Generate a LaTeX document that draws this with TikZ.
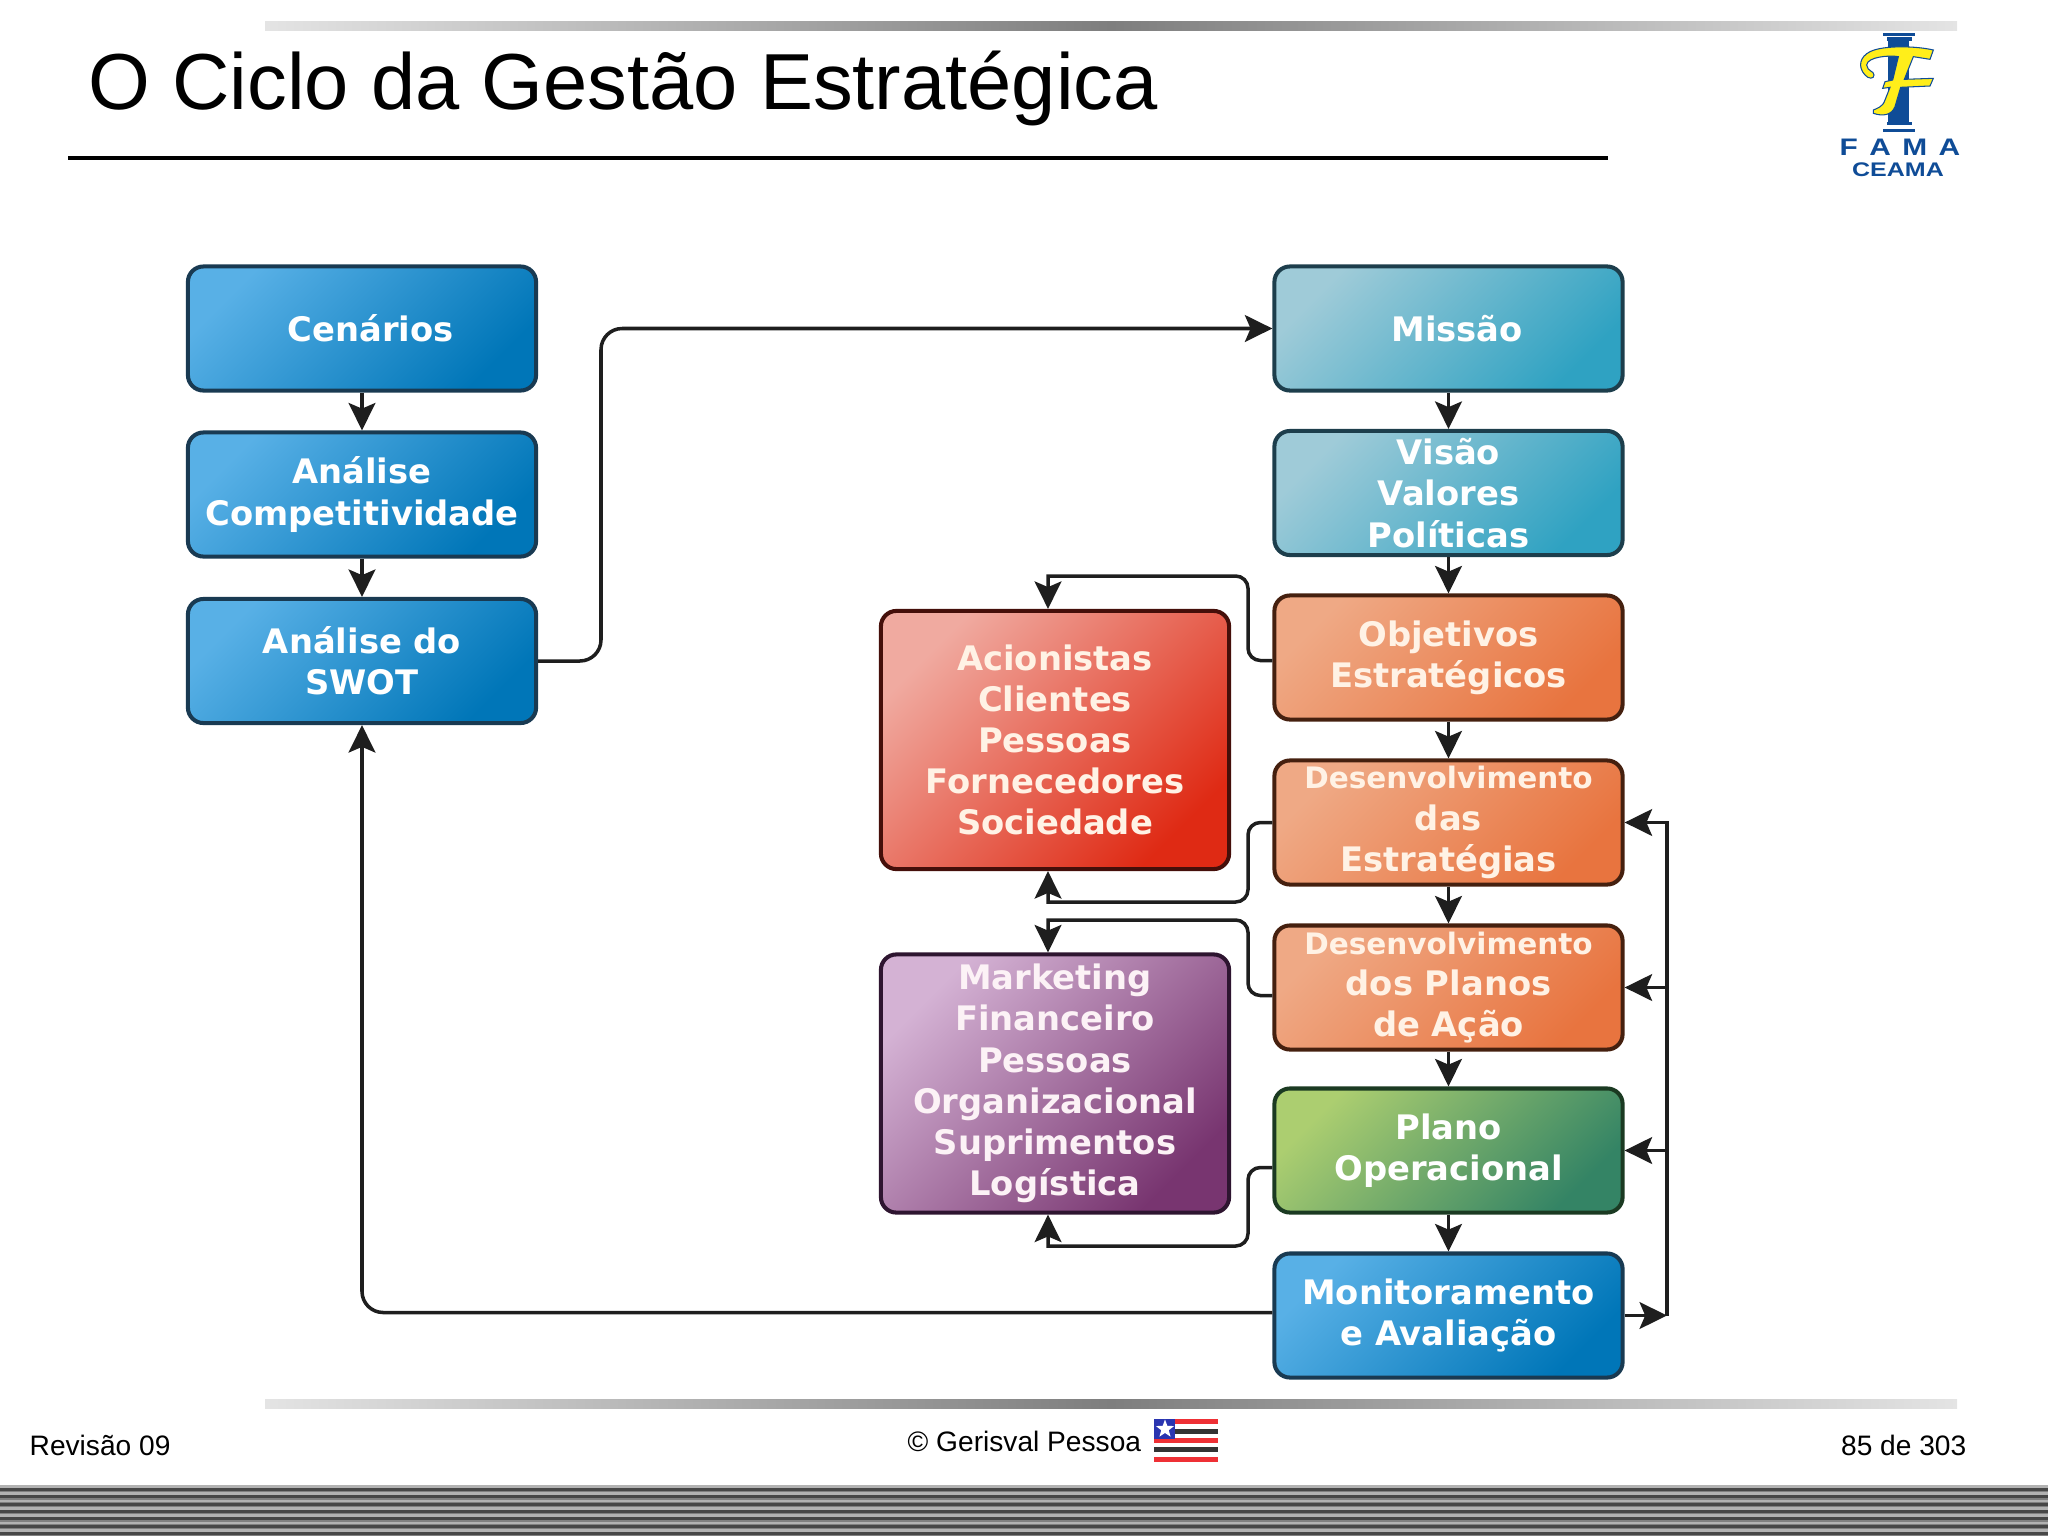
\documentclass[tikz,border=0pt]{standalone}
\usepackage{fontspec}
\setmainfont{Liberation Sans}
\newfontfamily\boxfont{DejaVu Sans}
\usepackage{tikz}
\usetikzlibrary{calc,arrows.meta,shapes.geometric}
\definecolor{linecol}{HTML}{1E1E1E}
\definecolor{barmid}{HTML}{7E7E7E}
\definecolor{barend}{HTML}{E4E4E4}
\definecolor{logoblue}{HTML}{0F4C97}
\definecolor{logoyellow}{HTML}{FFEE1A}
\definecolor{flagred}{HTML}{EE3035}
\definecolor{flagblue}{HTML}{2A35B0}
\definecolor{blueA}{HTML}{58B0E6}
\definecolor{blueB}{HTML}{0076B8}
\definecolor{blueE}{HTML}{193A52}
\definecolor{tealA}{HTML}{9FCBD8}
\definecolor{tealB}{HTML}{2FA2C2}
\definecolor{tealE}{HTML}{1D3E4C}
\definecolor{orangeA}{HTML}{EFA985}
\definecolor{orangeB}{HTML}{E8743F}
\definecolor{orangeE}{HTML}{45200F}
\definecolor{redA}{HTML}{F0AAA0}
\definecolor{redB}{HTML}{DF2A14}
\definecolor{redE}{HTML}{450F0A}
\definecolor{purpleA}{HTML}{D4B2D4}
\definecolor{purpleB}{HTML}{783570}
\definecolor{purpleE}{HTML}{2E1530}
\definecolor{greenA}{HTML}{ACCE70}
\definecolor{greenB}{HTML}{348465}
\definecolor{greenE}{HTML}{1B3A22}
\newcommand{\fitline}[2]{{\fontsize{#1}{11.7}\selectfont #2}}
\tikzset{
    gradbox/.style n args={3}{shape=rectangle,rounded corners=4.4pt,draw=#3,line width=1.15pt,top color=#1,bottom color=#2,shading angle=45,minimum width=3.48cm,minimum height=1.24cm,inner sep=0,align=center,text=white,font=\boxfont\bfseries\fontsize{9.6}{11.7}\selectfont},
    bluebox/.style={gradbox={blueA}{blueB}{blueE}},
    tealbox/.style={gradbox={tealA}{tealB}{tealE}},
    orangebox/.style={gradbox={orangeA}{orangeB}{orangeE},text=white!90!orange},
    redbox/.style={gradbox={redA}{redB}{redE},minimum height=2.58cm,text=white!90!orange},
    purplebox/.style={gradbox={purpleA}{purpleB}{purpleE},minimum height=2.58cm,text=white!95!purple},
    greenbox/.style={gradbox={greenA}{greenB}{greenE}},
    conn/.style={draw=linecol,line width=1pt,-{Stealth[length=7.8pt,width=7.6pt,inset=1.6pt]}},
    elbow/.style={conn,rounded corners=3.5pt},
    slidetext/.style={inner sep=0,anchor=base west,font=\fontsize{8}{10}\selectfont},
    logotext/.style={inner sep=0,text=logoblue,font=\bfseries\fontsize{6.8}{8}\selectfont}
}
\begin{document}
\begin{tikzpicture}[x=0.01cm,y=-0.01cm]
    \useasboundingbox (0,0) rectangle (2048,1536);

    % slide frame
    \shade[left color=barend,right color=barend,middle color=barmid] (265,21) rectangle (1957,30);
    \shade[left color=barend,right color=barend,middle color=barmid] (265,1399) rectangle (1957,1408);
    \draw[black,line width=1pt] (68,158) -- (1608,158);
    \fill[black!50] (0,1485) rectangle (2048,1536);
    \foreach \k in {0,...,6} {
        \fill[black!30] (0,1485+7.33*\k) rectangle (2048,1487.5+7.33*\k);
        \fill[black!72] (0,1488+7.33*\k) rectangle (2048,1491+7.33*\k);
    }
    \node[inner sep=0,anchor=base west,font=\fontsize{22.6}{26}\selectfont] (title) at (88,109) {O Ciclo da Gestão Estratégica};
    \node[slidetext] (rev) at (29,1455) {Revisão 09};
    \node[slidetext] (author) at (907,1451) {© Gerisval Pessoa};
    \node[slidetext,anchor=base east] (page) at (1967,1455) {85 de 303};

    % logo
    \begin{scope}[shift={(1750,0)},scale=1/3]
        \fill[logoblue] (400,98) rectangle (495,108);
        \fill[logoblue] (410,111) rectangle (485,122);
        \fill[logoblue] (415,122) rectangle (477,365);
        \fill[logoblue] (410,365) rectangle (485,376);
        \fill[logoblue] (400,387) rectangle (495,397);
        \filldraw[fill=logoyellow,draw=logoblue,line width=0.3pt] (550,150) .. controls (500,138) and (400,135) .. (360,155)
            .. controls (330,170) and (322,200) .. (345,225) .. controls (355,237) and (372,238) .. (372,225)
            .. controls (372,212) and (352,215) .. (350,195) .. controls (352,170) and (420,165) .. (445,170)
            -- (428,240) -- (405,245) -- (398,265) -- (420,262) -- (405,300) .. controls (398,322) and (380,325) .. (370,330)
            -- (370,340) .. controls (400,350) and (425,345) .. (435,320) -- (452,262) -- (540,258) -- (550,235) -- (463,238)
            -- (490,170) -- (540,178) -- cycle;
    \end{scope}
    \node[logotext,xscale=1.25] (fama) at (1900,147.5) {F\hspace{2.6pt}A\hspace{2.6pt}M\hspace{2.6pt}A};
    \node[logotext,xscale=1.27,font=\bfseries\fontsize{5.6}{7}\selectfont] (ceama) at (1898,170) {CEAMA};

    % flag
    \foreach \y in {1419,1438,1457} {
        \fill[flagred] (1154,\y) rectangle (1218,\y+5);
    }
    \foreach \y in {1429,1447} {
        \fill[black!80] (1154,\y) rectangle (1218,\y+5);
    }
    \fill[flagblue] (1154,1419) rectangle (1175,1438.5);
    \node[star,star points=5,star point ratio=2.4,fill=white,inner sep=0,minimum size=0.19cm] (flagstar) at (1165,1429) {};

    % left column
    \node[bluebox] (cen) at (362,328.5) {\hspace*{5pt}Cenários};
    \node[bluebox] (comp) at (362,494.5) {Análise\\Competitividade};
    \node[bluebox] (swot) at (362,661) {Análise do\\SWOT};

    % right column
    \node[tealbox] (mis) at (1448.5,328.5) {\hspace*{5pt}Missão};
    \node[tealbox] (vis) at (1448.5,493) {Visão\\Valores\\Políticas};
    \node[orangebox] (obj) at (1448.5,657.5) {Objetivos\\Estratégicos};
    \node[orangebox] (des) at (1448.5,822.5) {\fitline{8.4}{Desenvolvimento}\\das\\Estratégias};
    \node[orangebox] (pla) at (1448.5,987.5) {\fitline{8.4}{Desenvolvimento}\\dos Planos\\de Ação};
    \node[greenbox] (ope) at (1448.5,1150.5) {Plano\\Operacional};
    \node[bluebox] (mon) at (1448.5,1315.5) {Monitoramento\\e Avaliação};

    % middle column
    \node[redbox] (aci) at (1055,740) {Acionistas\\Clientes\\Pessoas\\Fornecedores\\Sociedade};
    \node[purplebox] (mar) at (1055,1083.5) {Marketing\\Financeiro\\Pessoas\\Organizacional\\Suprimentos\\Logística};

    \coordinate (aciT) at ($(aci.north)+(-7,0)$);
    \coordinate (aciB) at ($(aci.south)+(-7,0)$);
    \coordinate (marT) at ($(mar.north)+(-7,0)$);
    \coordinate (marB) at ($(mar.south)+(-7,0)$);
    \coordinate (objW) at ($(obj.west)+(0,3)$);
    \coordinate (plaW) at ($(pla.west)+(0,8)$);
    \coordinate (opeW) at ($(ope.west)+(0,17)$);
    \coordinate (monW) at ($(mon.west)+(0,-3)$);
    \coordinate (k1) at (1248,576);
    \coordinate (k2) at (1248,902);
    \coordinate (k3) at (1248,920);
    \coordinate (k4) at (1248,1246);
    \coordinate (top) at (601,500);
    \coordinate (bus) at (1667,1315.5);

    \draw[conn] (cen) -- (comp);
    \draw[conn] (comp) -- (swot);
    \draw[conn] (mis) -- (vis);
    \draw[conn] (vis) -- (obj);
    \draw[conn] (obj) -- (des);
    \draw[conn] (des) -- (pla);
    \draw[conn] (pla) -- (ope);
    \draw[conn] (ope) -- (mon);

    \draw[elbow,rounded corners=6pt] (swot.east) -| (top) |- (mis.west);
    \draw[elbow,rounded corners=6pt] (monW) -| (swot.south);

    \draw[elbow] (objW) -| (k1) [sharp corners] -| (aciT);
    \draw[elbow] (des.west) -| (k2) [sharp corners] -| (aciB);
    \draw[elbow] (plaW) -| (k3) [sharp corners] -| (marT);
    \draw[elbow] (opeW) -| (k4) [sharp corners] -| (marB);

    \draw[conn] (mon.east) -- (bus);
    \draw[conn] (bus) |- (des.east);
    \draw[conn] (bus) |- (pla.east);
    \draw[conn] (bus) |- (ope.east);
\end{tikzpicture}
\end{document}
